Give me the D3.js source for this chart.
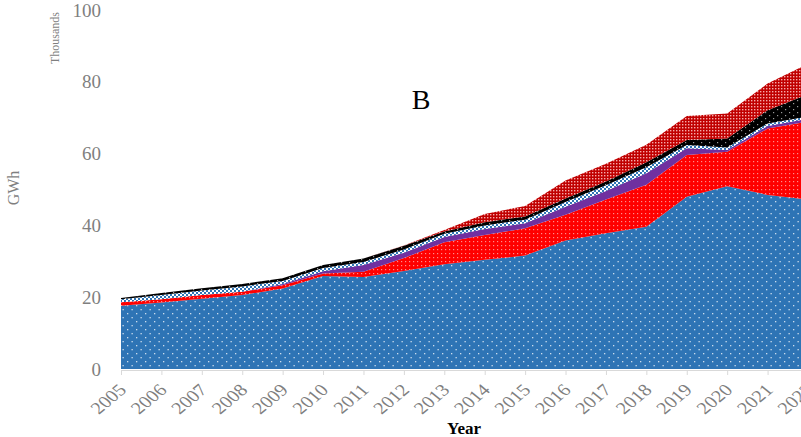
<!DOCTYPE html>
<html>
<head>
<meta charset="utf-8">
<script src="https://cdn.jsdelivr.net/npm/d3@7"></script>
<style>
  html, body { margin: 0; padding: 0; background: #fff; }
  svg { display: block; }
  text { font-family: "Liberation Serif", "Times New Roman", serif; }
</style>
</head>
<body>
<svg id="chart" width="801" height="437"></svg>
<script>
// Annual generation by source, stacked (thousand GWh)
const years = [2005, 2006, 2007, 2008, 2009, 2010, 2011, 2012, 2013, 2014, 2015, 2016, 2017, 2018, 2019, 2020, 2021, 2022];
const seriesBlue    = [17.6, 18.5, 19.6, 20.6, 22.4, 25.9, 25.6, 27.3, 29.2, 30.4, 31.6, 35.8, 37.8, 39.6, 48.0, 50.9, 48.5, 47.2];
const seriesRed     = [1.0, 0.9, 1.0, 0.9, 0.9, 0.7, 1.5, 3.6, 6.1, 6.9, 7.6, 7.2, 9.4, 11.7, 11.6, 9.6, 18.5, 21.7];
const seriesPurple  = [0.0, 0.0, 0.0, 0.0, 0.4, 0.6, 1.9, 1.5, 1.5, 1.7, 1.4, 2.2, 2.4, 3.2, 1.9, 0.5, 0.7, 0.8];
const seriesChecker = [0.8, 1.2, 1.3, 1.5, 0.8, 0.9, 0.8, 0.9, 0.9, 1.0, 1.0, 1.3, 1.6, 1.7, 0.9, 0.7, 0.7, 0.6];
const seriesBlack   = [0.4, 0.6, 0.6, 0.7, 0.8, 0.9, 1.0, 1.0, 0.6, 0.9, 0.9, 1.0, 1.0, 1.4, 1.4, 2.5, 3.7, 6.2];
const seriesDarkRed = [0.0, 0.0, 0.0, 0.0, 0.0, 0.0, 0.0, 0.1, 0.4, 2.3, 2.9, 5.0, 5.0, 4.9, 6.7, 7.0, 7.4, 8.5];
const yTicks = [0, 20, 40, 60, 80, 100];

const keys = ["blue", "red", "purple", "checker", "black", "darkred"];
const seriesByKey = {
  blue: seriesBlue, red: seriesRed, purple: seriesPurple,
  checker: seriesChecker, black: seriesBlack, darkred: seriesDarkRed
};
const rows = years.map((yr, i) => {
  const r = { year: yr };
  keys.forEach(k => { r[k] = seriesByKey[k][i]; });
  return r;
});

const svg = d3.select("#chart");
const x = d3.scaleLinear().domain([2005, 2022]).range([121, 808]);
const y = d3.scaleLinear().domain([0, 100]).range([369, 10]);

// Fill patterns
const defs = svg.append("defs");
function dotPattern(id, w, h, base, dots, dotColor, r) {
  const p = defs.append("pattern").attr("id", id).attr("patternUnits", "userSpaceOnUse")
    .attr("width", w).attr("height", h);
  p.append("rect").attr("width", w).attr("height", h).attr("fill", base);
  dots.forEach(([cx, cy]) => {
    p.append("rect").attr("x", cx).attr("y", cy).attr("width", r).attr("height", r).attr("fill", dotColor);
  });
}
dotPattern("pBlue", 9, 8, "#2e74b5", [[1, 1], [5.5, 5]], "rgba(255,255,255,0.75)", 1.3);
dotPattern("pRed", 4, 4, "#ff0000", [[1, 1]], "rgba(255,255,255,0.55)", 1.2);
dotPattern("pPurple", 4, 4, "#7030a0", [], "#fff", 1);
dotPattern("pChecker", 4, 4, "#ffffff", [[0, 0], [2, 2]], "#2e74b5", 2);
dotPattern("pBlack", 8, 6, "#000000", [[1, 1], [5, 4]], "rgba(255,255,255,0.6)", 1.2);
dotPattern("pDarkRed", 3, 3, "#c00000", [[1, 1]], "rgba(255,200,200,0.85)", 1.4);
const fills = {
  blue: "url(#pBlue)", red: "url(#pRed)", purple: "url(#pPurple)",
  checker: "url(#pChecker)", black: "url(#pBlack)", darkred: "url(#pDarkRed)"
};

const stacked = d3.stack().keys(keys)(rows);
const area = d3.area()
  .x(d => x(d.data.year))
  .y0(d => y(d[0]))
  .y1(d => y(d[1]));

svg.append("g").selectAll("path")
  .data(stacked)
  .join("path")
  .attr("d", area)
  .attr("fill", d => fills[d.key]);

// X axis
const xAxis = svg.append("g")
  .attr("transform", `translate(0,${y(0) + 1})`)
  .call(d3.axisBottom(x).tickValues(years).tickFormat(d3.format("d")).tickSize(5).tickSizeOuter(0));
xAxis.select(".domain").attr("stroke", "#d9d9d9");
xAxis.selectAll(".tick line").attr("stroke", "#d9d9d9");
xAxis.selectAll(".tick text")
  .attr("fill", "#7f7f7f")
  .style("font-size", "17px")
  .attr("text-anchor", "end")
  .attr("dy", null)
  .attr("y", null)
  .attr("transform", "translate(6,21) scale(1.2,1) rotate(-45)");

// Y axis (labels only)
const yAxis = svg.append("g")
  .attr("transform", `translate(121,0)`)
  .call(d3.axisLeft(y).tickValues(yTicks).tickSize(0).tickPadding(20));
yAxis.select(".domain").remove();
yAxis.selectAll(".tick text")
  .attr("fill", "#7f7f7f")
  .style("font-size", "19px");

// Axis titles and annotations
svg.append("text")
  .attr("transform", "translate(19,188) rotate(-90)")
  .attr("text-anchor", "middle")
  .attr("fill", "#7f7f7f")
  .style("font-size", "16px")
  .text("GWh");

svg.append("text")
  .attr("transform", "translate(59,38) rotate(-90)")
  .attr("text-anchor", "middle")
  .attr("fill", "#7f7f7f")
  .style("font-size", "12px")
  .text("Thousands");

svg.append("text")
  .attr("x", 464)
  .attr("y", 434)
  .attr("text-anchor", "middle")
  .attr("fill", "#000")
  .style("font-size", "17px")
  .style("font-weight", "bold")
  .text("Year");

svg.append("text")
  .attr("x", 421)
  .attr("y", 109)
  .attr("text-anchor", "middle")
  .attr("fill", "#000")
  .style("font-size", "28px")
  .text("B");
</script>
</body>
</html>
